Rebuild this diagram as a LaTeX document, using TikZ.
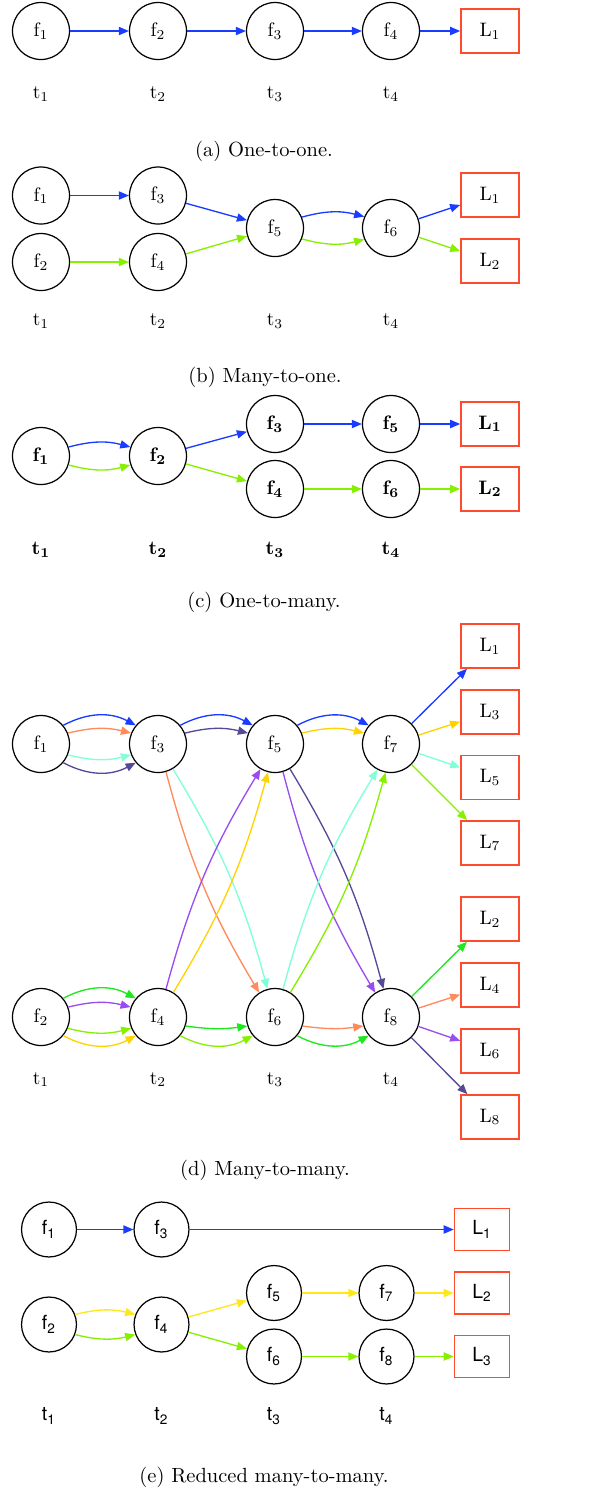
\documentclass[tikz,border=0pt]{standalone}
\usepackage{fontspec}
\newfontfamily\heros{TeX Gyre Heros}
\usetikzlibrary{arrows.meta}
\definecolor{cblue}{HTML}{1A3CFF}
\definecolor{ccoral}{HTML}{FF8A5C}
\definecolor{caqua}{HTML}{80FFD8}
\definecolor{cdsb}{HTML}{554A96}
\definecolor{cpurple}{HTML}{9A4DEE}
\definecolor{cgreen}{HTML}{1EE81E}
\definecolor{clawn}{HTML}{86F000}
\definecolor{cgold}{HTML}{FFD300}
\definecolor{cyellow}{HTML}{FFE81A}
\definecolor{cbox}{HTML}{FF4A2E}
\begin{document}
\begin{tikzpicture}[x=0.4878pt,y=0.4878pt,
  lblfont/.style={font=\fontsize{9.5}{11}\selectfont},
  fn/.style={circle,draw,line width=0.6pt,minimum size=27.8pt,inner sep=0pt,lblfont},
  lb/.style={rectangle,draw=cbox,line width=0.75pt,minimum width=28.3pt,minimum height=21.5pt,inner sep=0pt,lblfont},
  tl/.style={inner sep=0pt,lblfont},
  captxt/.style={inner sep=0pt,font=\fontsize{10}{12}\selectfont},
  sfont/.style={font=\heros\fontsize{9.5}{11}\selectfont},
  efn/.style={circle,draw,line width=0.6pt,minimum size=26.8pt,inner sep=0pt,sfont},
  elb/.style={rectangle,draw=cbox,line width=0.75pt,minimum width=26.8pt,minimum height=20.5pt,inner sep=0pt,sfont},
  etl/.style={inner sep=0pt,sfont},
  edg/.style={line width=0.65pt,-{Triangle[length=4.9pt,width=4pt]}}]
\useasboundingbox (0,0) rectangle (600,-1490);

% ---------------- (a) ----------------
\node[fn] (a1) at (41,-31) {f\textsubscript{1}};
\node[fn] (a2) at (158,-31) {f\textsubscript{2}};
\node[fn] (a3) at (275,-31) {f\textsubscript{3}};
\node[fn] (a4) at (391,-31) {f\textsubscript{4}};
\node[lb] (aL1) at (490,-31) {L\textsubscript{1}};
\node[tl] (at1) at (41,-94) {t\textsubscript{1}};
\node[tl] (at2) at (158,-94) {t\textsubscript{2}};
\node[tl] (at3) at (275,-94) {t\textsubscript{3}};
\node[tl] (at4) at (391,-94) {t\textsubscript{4}};
\node[captxt] (acap) at (264,-151) {(a) One-to-one.};
\draw[edg,cblue] (a1) -- (a2);
\draw[edg,cblue] (a2) -- (a3);
\draw[edg,cblue] (a3) -- (a4);
\draw[edg,cblue] (a4) -- (aL1);

% ---------------- (b) ----------------
\node[fn] (b1) at (41,-195.5) {f\textsubscript{1}};
\node[fn] (b2) at (41,-262) {f\textsubscript{2}};
\node[fn] (b3) at (158,-195.5) {f\textsubscript{3}};
\node[fn] (b4) at (158,-262) {f\textsubscript{4}};
\node[fn] (b5) at (275,-228) {f\textsubscript{5}};
\node[fn] (b6) at (391,-228) {f\textsubscript{6}};
\node[lb] (bL1) at (490,-195) {L\textsubscript{1}};
\node[lb] (bL2) at (490,-261) {L\textsubscript{2}};
\node[tl] (bt1) at (41,-321) {t\textsubscript{1}};
\node[tl] (bt2) at (158,-321) {t\textsubscript{2}};
\node[tl] (bt3) at (275,-321) {t\textsubscript{3}};
\node[tl] (bt4) at (391,-321) {t\textsubscript{4}};
\node[captxt] (bcap) at (265,-377) {(b) Many-to-one.};
\draw[edg,cblue] (b1) -- (b3);
\draw[edg,clawn] (b2) -- (b4);
\draw[edg,cblue] (b3) -- (b5);
\draw[edg,clawn] (b4) -- (b5);
\draw[edg,cblue] (b5.22) to[bend left=15] (b6.157);
\draw[edg,clawn] (b5.-22) to[bend right=15] (b6.-157);
\draw[edg,cblue] (b6) -- (bL1);
\draw[edg,clawn] (b6) -- (bL2);

% ---------------- (c) ----------------
\node[fn] (c1) at (41,-456) {\textbf{f\textsubscript{1}}};
\node[fn] (c2) at (158,-456) {\textbf{f\textsubscript{2}}};
\node[fn] (c3) at (275,-424) {\textbf{f\textsubscript{3}}};
\node[fn] (c4) at (275,-489) {\textbf{f\textsubscript{4}}};
\node[fn] (c5) at (391,-424) {\textbf{f\textsubscript{5}}};
\node[fn] (c6) at (391,-489) {\textbf{f\textsubscript{6}}};
\node[lb] (cL1) at (490,-424) {\textbf{L\textsubscript{1}}};
\node[lb] (cL2) at (490,-489) {\textbf{L\textsubscript{2}}};
\node[tl] (ct1) at (41,-550) {\textbf{t\textsubscript{1}}};
\node[tl] (ct2) at (158,-550) {\textbf{t\textsubscript{2}}};
\node[tl] (ct3) at (275,-550) {\textbf{t\textsubscript{3}}};
\node[tl] (ct4) at (391,-550) {\textbf{t\textsubscript{4}}};
\node[captxt] (ccap) at (264,-602) {(c) One-to-many.};
\draw[edg,cblue] (c1.18) to[bend left=15] (c2.162);
\draw[edg,clawn] (c1.-18) to[bend right=15] (c2.-162);
\draw[edg,cblue] (c2) -- (c3);
\draw[edg,clawn] (c2) -- (c4);
\draw[edg,cblue] (c3) -- (c5);
\draw[edg,clawn] (c4) -- (c6);
\draw[edg,cblue] (c5) -- (cL1);
\draw[edg,clawn] (c6) -- (cL2);

% ---------------- (d) ----------------
\node[fn] (d1) at (41,-744) {f\textsubscript{1}};
\node[fn] (d3) at (158,-744) {f\textsubscript{3}};
\node[fn] (d5) at (275,-744) {f\textsubscript{5}};
\node[fn] (d7) at (391,-744) {f\textsubscript{7}};
\node[fn] (d2) at (41,-1017) {f\textsubscript{2}};
\node[fn] (d4) at (158,-1017) {f\textsubscript{4}};
\node[fn] (d6) at (275,-1017) {f\textsubscript{6}};
\node[fn] (d8) at (391,-1017) {f\textsubscript{8}};
\node[lb] (dL1) at (490,-646) {L\textsubscript{1}};
\node[lb] (dL3) at (490,-712) {L\textsubscript{3}};
\node[lb] (dL5) at (490,-777.5) {L\textsubscript{5}};
\node[lb] (dL7) at (490,-843) {L\textsubscript{7}};
\node[lb] (dL2) at (490,-919) {L\textsubscript{2}};
\node[lb] (dL4) at (490,-985) {L\textsubscript{4}};
\node[lb] (dL6) at (490,-1051) {L\textsubscript{6}};
\node[lb] (dL8) at (490,-1117) {L\textsubscript{8}};
\node[tl] (dt1) at (41,-1079.5) {t\textsubscript{1}};
\node[tl] (dt2) at (158,-1079.5) {t\textsubscript{2}};
\node[tl] (dt3) at (275,-1079.5) {t\textsubscript{3}};
\node[tl] (dt4) at (391,-1079.5) {t\textsubscript{4}};
\node[captxt] (dcap) at (265,-1170) {(d) Many-to-many.};
% f1 -> f3
\draw[edg,cblue]  (d1.40)  to[bend left=28]  (d3.140);
\draw[edg,ccoral] (d1.22)  to[bend left=14]  (d3.158);
\draw[edg,caqua]  (d1.-22) to[bend right=14] (d3.-158);
\draw[edg,cdsb]   (d1.-40) to[bend right=28] (d3.-140);
% f3 -> f5
\draw[edg,cblue]  (d3.40)  to[bend left=28]  (d5.140);
\draw[edg,cdsb]   (d3.22)  to[bend left=14]  (d5.158);
% f5 -> f7
\draw[edg,cblue]  (d5.40)  to[bend left=28]  (d7.140);
\draw[edg,cgold]  (d5.22)  to[bend left=14]  (d7.158);
% f7 -> labels
\draw[edg,cblue]  (d7) -- (dL1);
\draw[edg,cgold]  (d7) -- (dL3);
\draw[edg,caqua]  (d7) -- (dL5);
\draw[edg,clawn]  (d7) -- (dL7);
% crossing edges
\draw[edg,ccoral] (d3.-74) to[bend right=8] (d6.123);
\draw[edg,caqua]  (d3.-59) to[bend left=8]  (d6.105);
\draw[edg,cpurple](d5.-74) to[bend right=8] (d8.123);
\draw[edg,cdsb]   (d5.-59) to[bend left=8]  (d8.105);
\draw[edg,cpurple](d4.74)  to[bend left=8]  (d5.-120);
\draw[edg,cgold]  (d4.58)  to[bend right=8] (d5.-104);
\draw[edg,caqua]  (d6.74)  to[bend left=8]  (d7.-118);
\draw[edg,clawn]  (d6.58)  to[bend right=8] (d7.-101);
% f2 -> f4
\draw[edg,cgreen] (d2.40)  to[bend left=28]  (d4.140);
\draw[edg,cpurple](d2.20)  to[bend left=14]  (d4.160);
\draw[edg,clawn]  (d2.-23) to[bend right=14] (d4.-157);
\draw[edg,cgold]  (d2.-40) to[bend right=28] (d4.-140);
% f4 -> f6
\draw[edg,cgreen] (d4.-18) to[bend right=8]  (d6.-162);
\draw[edg,clawn]  (d4.-40) to[bend right=28] (d6.-140);
% f6 -> f8
\draw[edg,ccoral] (d6.-18) to[bend right=8]  (d8.-162);
\draw[edg,cgreen] (d6.-40) to[bend right=28] (d8.-140);
% f8 -> labels
\draw[edg,cgreen] (d8) -- (dL2);
\draw[edg,ccoral] (d8) -- (dL4);
\draw[edg,cpurple](d8) -- (dL6);
\draw[edg,cdsb]   (d8) -- (dL8);

% ---------------- (e) ----------------
\node[efn] (e1) at (49,-1229.5) {f\textsubscript{1}};
\node[efn] (e3) at (161.5,-1229.5) {f\textsubscript{3}};
\node[efn] (e2) at (49,-1324.5) {f\textsubscript{2}};
\node[efn] (e4) at (161.5,-1324.5) {f\textsubscript{4}};
\node[efn] (e5) at (274,-1293) {f\textsubscript{5}};
\node[efn] (e6) at (274,-1356.5) {f\textsubscript{6}};
\node[efn] (e7) at (386.5,-1293) {f\textsubscript{7}};
\node[efn] (e8) at (386.5,-1356.5) {f\textsubscript{8}};
\node[elb] (eL1) at (482,-1229.5) {L\textsubscript{1}};
\node[elb] (eL2) at (482,-1293) {L\textsubscript{2}};
\node[elb] (eL3) at (482,-1356.5) {L\textsubscript{3}};
\node[etl] (et1) at (49,-1416) {t\textsubscript{1}};
\node[etl] (et2) at (161.5,-1416) {t\textsubscript{2}};
\node[etl] (et3) at (274,-1416) {t\textsubscript{3}};
\node[etl] (et4) at (386.5,-1416) {t\textsubscript{4}};
\node[captxt] (ecap) at (264,-1477.5) {(e) Reduced many-to-many.};
\draw[edg,cblue]   (e1) -- (e3);
\draw[edg,cblue]   (e3) -- (eL1);
\draw[edg,cyellow] (e2.21) to[bend left=14] (e4.159);
\draw[edg,clawn]   (e2.-21) to[bend right=14] (e4.-159);
\draw[edg,cyellow] (e4) -- (e5);
\draw[edg,clawn]   (e4) -- (e6);
\draw[edg,cyellow] (e5) -- (e7);
\draw[edg,cyellow] (e7) -- (eL2);
\draw[edg,clawn]   (e6) -- (e8);
\draw[edg,clawn]   (e8) -- (eL3);
\end{tikzpicture}
\end{document}
